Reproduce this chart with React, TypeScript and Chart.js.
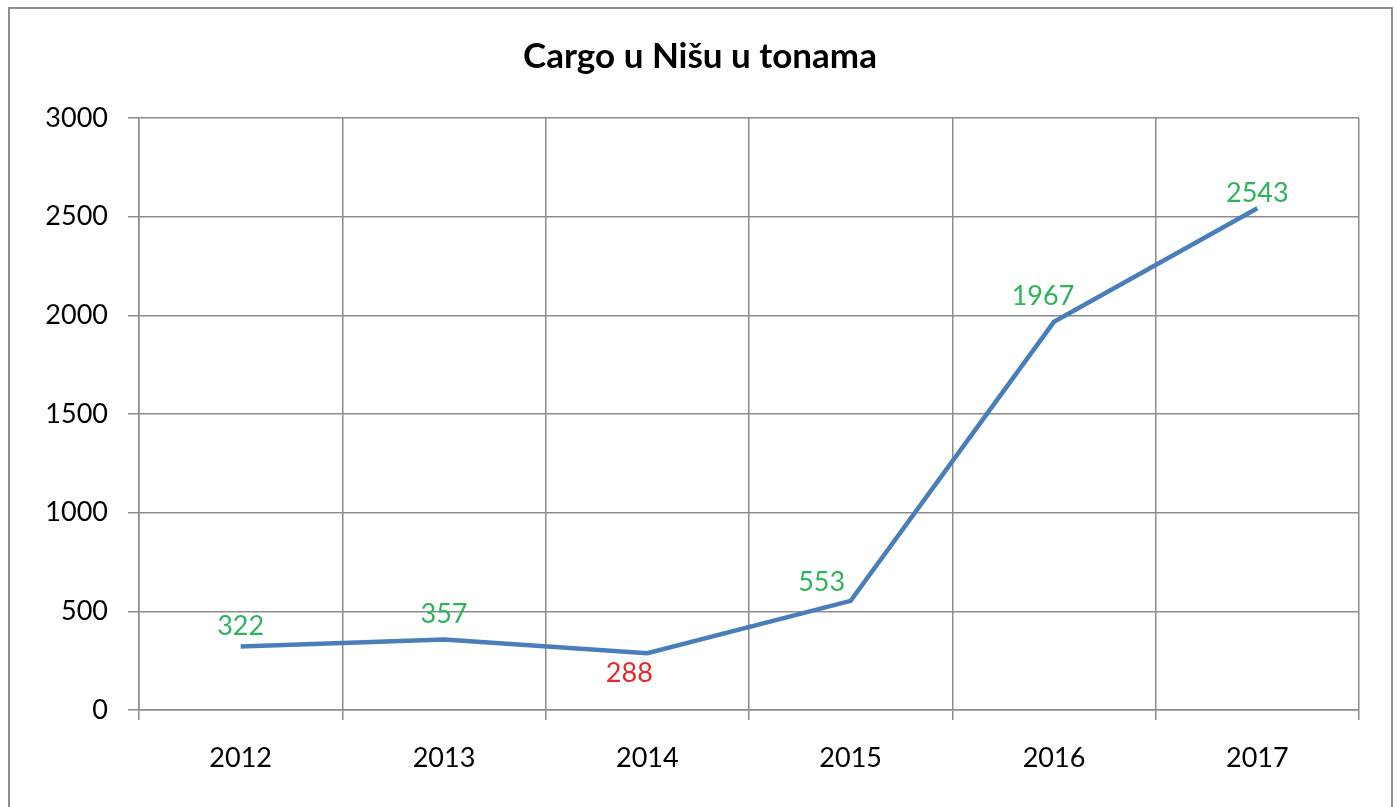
import React, { useEffect, useRef } from "react";
import { Chart, registerables } from "chart.js";

Chart.register(...registerables);

const title = "Cargo u Nišu u tonama";
const years = ["2012", "2013", "2014", "2015", "2016", "2017"];
const cargo = [322, 357, 288, 553, 1967, 2543];
const labelColors = ["#2DB35C", "#2DB35C", "#E8282B", "#2DB35C", "#2DB35C", "#2DB35C"];
const labelNudges = [
  [0, -20],
  [0, -25],
  [-18, 20],
  [-29, -19],
  [-11, -26],
  [0, -15],
];

const FONT = "Lato, 'Open Sans', sans-serif";

const frame = {
  id: "frame",
  beforeDraw(chart: any) {
    const ctx = chart.ctx;
    ctx.save();
    ctx.fillStyle = "#ffffff";
    ctx.fillRect(0, 0, chart.width, chart.height);
    ctx.strokeStyle = "#8c8c8c";
    ctx.lineWidth = 2;
    ctx.beginPath();
    ctx.moveTo(9, chart.height + 5);
    ctx.lineTo(9, 8);
    ctx.lineTo(1392, 8);
    ctx.lineTo(1392, chart.height + 5);
    ctx.stroke();
    ctx.restore();
  },
};

const valueLabels = {
  id: "valueLabels",
  afterDatasetsDraw(chart: any) {
    const ctx = chart.ctx;
    const meta = chart.getDatasetMeta(0);
    ctx.save();
    ctx.font = `27px ${FONT}`;
    ctx.textAlign = "center";
    ctx.textBaseline = "middle";
    meta.data.forEach((pt: any, i: number) => {
      const [dx, dy] = labelNudges[i];
      ctx.fillStyle = labelColors[i];
      ctx.fillText(String(cargo[i]), pt.x + dx, pt.y + dy);
    });
    ctx.restore();
  },
};

export default function App() {
  const ref = useRef<HTMLCanvasElement>(null);
  useEffect(() => {
    document.body.style.margin = "0";
    const chart = new Chart(ref.current!, {
      type: "line",
      data: {
        labels: years,
        datasets: [
          {
            data: cargo,
            borderColor: "#4A7EBB",
            borderWidth: 4.5,
            pointRadius: 0,
            tension: 0,
            fill: false,
          },
        ],
      },
      plugins: [frame, valueLabels],
      options: {
        responsive: false,
        animation: false,
        layout: { padding: { left: 41, right: 38, top: 0, bottom: 0 } },
        plugins: {
          legend: { display: false },
          tooltip: { enabled: false },
          title: {
            display: true,
            text: title,
            color: "#000000",
            font: { family: FONT, size: 35, weight: "bold", lineHeight: 1.2 },
            padding: { top: 36, bottom: 40 },
          },
        },
        scales: {
          x: {
            offset: true,
            afterFit(scale: any) {
              scale.height = 97;
            },
            grid: {
              offset: true,
              color: "#8c8c8c",
              lineWidth: 1.5,
              tickLength: 10,
              drawTicks: true,
            },
            border: { color: "#8c8c8c", width: 1.5 },
            ticks: {
              color: "#000000",
              font: { family: FONT, size: 27 },
              padding: 22,
              maxRotation: 0,
            },
          },
          y: {
            min: 0,
            max: 3000,
            afterFit(scale: any) {
              scale.width = 98;
            },
            grid: {
              color: "#8c8c8c",
              lineWidth: 1.5,
              tickLength: 11,
            },
            border: { color: "#8c8c8c", width: 1.5 },
            ticks: {
              stepSize: 500,
              color: "#000000",
              font: { family: FONT, size: 27 },
              padding: 20,
              callback: (v: any) => String(v),
            },
          },
        },
      },
    });
    return () => chart.destroy();
  }, []);
  return (
    <div style={{ width: 1397, height: 807 }}>
      <canvas ref={ref} width={1397} height={807} />
    </div>
  );
}
